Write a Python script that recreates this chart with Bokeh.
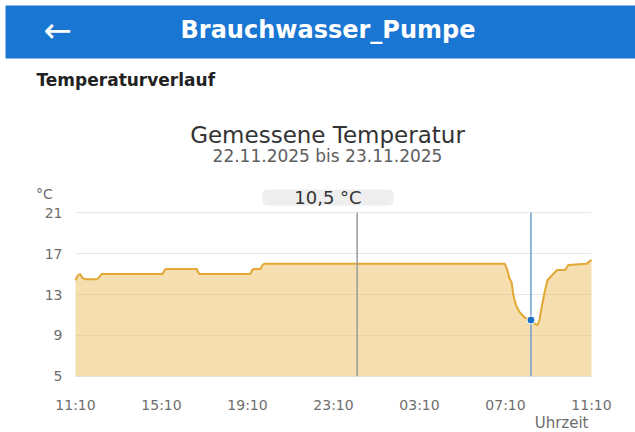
import pandas as pd
from bokeh.plotting import figure
from bokeh.models import (Range1d, FixedTicker, DatetimeTickFormatter,
                          BoxAnnotation, Label, ColumnDataSource, Grid)
from bokeh.embed import file_html
from bokeh.resources import INLINE

# ---------------- data ----------------
times = [
    "2025-11-22 11:10", "2025-11-22 11:17", "2025-11-22 11:23", "2025-11-22 11:30",
    "2025-11-22 11:38", "2025-11-22 12:11", "2025-11-22 12:18", "2025-11-22 12:23",
    "2025-11-22 15:13", "2025-11-22 15:19", "2025-11-22 15:24", "2025-11-22 16:48",
    "2025-11-22 16:52", "2025-11-22 16:56", "2025-11-22 19:18", "2025-11-22 19:23",
    "2025-11-22 19:27", "2025-11-22 19:46", "2025-11-22 19:52", "2025-11-22 19:57",
    "2025-11-23 07:08", "2025-11-23 07:12", "2025-11-23 07:15", "2025-11-23 07:21",
    "2025-11-23 07:27", "2025-11-23 07:32", "2025-11-23 07:40", "2025-11-23 07:49",
    "2025-11-23 08:03", "2025-11-23 08:21", "2025-11-23 08:29", "2025-11-23 08:39",
    "2025-11-23 08:45", "2025-11-23 08:50", "2025-11-23 08:59", "2025-11-23 09:07",
    "2025-11-23 09:20", "2025-11-23 09:34", "2025-11-23 09:56", "2025-11-23 10:06",
    "2025-11-23 10:56", "2025-11-23 11:10",
]
temps = [
    14.4, 14.9, 15.0, 14.6,
    14.5, 14.5, 14.8, 15.0,
    15.0, 15.4, 15.5, 15.5,
    15.2, 15.0, 15.0, 15.4,
    15.5, 15.5, 15.9, 16.0,
    16.0, 15.7, 15.4, 14.6,
    14.2, 12.9, 11.9, 11.3,
    10.75, 10.5, 10.2, 10.0,
    10.5, 11.6, 13.2, 14.4,
    14.9, 15.4, 15.4, 15.9,
    16.0, 16.4,
]
x_ticks = ["2025-11-22 11:10", "2025-11-22 15:10", "2025-11-22 19:10",
           "2025-11-22 23:10", "2025-11-23 03:10", "2025-11-23 07:10",
           "2025-11-23 11:10"]
y_ticks = [5, 9, 13, 17, 21]
marker_time = "2025-11-23 00:16"
cursor_time = "2025-11-23 08:21"
cursor_temp = 10.5

header_text = "Brauchwasser_Pumpe"
section_text = "Temperaturverlauf"
title_text = "Gemessene Temperatur"
subtitle_text = "22.11.2025 bis 23.11.2025"
y_unit = "°C"
x_label = "Uhrzeit"

# ---------------- layout (pixels) ----------------
W, H = 635, 432
PLOT_L, PLOT_R = 75.0, 591.0        # x pixel of first / last time tick
PLOT_T, PLOT_B = 212.3, 375.7       # y pixel of top / bottom y tick

EPOCH = pd.Timestamp("1970-01-01")
def ms(s):
    return (pd.Timestamp(s) - EPOCH) / pd.Timedelta(milliseconds=1)

t0, t1 = ms(x_ticks[0]), ms(x_ticks[-1])
per_px_x = (t1 - t0) / (PLOT_R - PLOT_L)
per_px_y = (y_ticks[-1] - y_ticks[0]) / (PLOT_B - PLOT_T)
x_range = Range1d(t0 - PLOT_L * per_px_x, t1 + (W - PLOT_R) * per_px_x)
y_range = Range1d(y_ticks[0] - (H - PLOT_B) * per_px_y, y_ticks[-1] + PLOT_T * per_px_y)

xs = [ms(t) for t in times]
src = ColumnDataSource(dict(x=xs, y=temps))

FONT = "DejaVu Sans"

p = figure(width=W, height=H, output_backend="svg", toolbar_location=None,
           x_axis_type="datetime", x_range=x_range, y_range=y_range,
           min_border=0)
p.title.visible = False
p.outline_line_color = None
p.background_fill_color = "white"
p.border_fill_color = "white"

# axes, drawn at the chart's own corner
p.xaxis.fixed_location = y_ticks[0]
p.yaxis.fixed_location = t0
p.xaxis.ticker = FixedTicker(ticks=[ms(t) for t in x_ticks])
p.xaxis.formatter = DatetimeTickFormatter(hours="%H:%M", minutes="%H:%M",
                                          days="%H:%M", hourmin="%H:%M")
p.yaxis.ticker = FixedTicker(ticks=y_ticks)
for ax in (p.xaxis[0], p.yaxis[0]):
    ax.axis_line_color = None
    ax.major_tick_line_color = None
    ax.minor_tick_line_color = None
    ax.major_label_text_font = FONT
    ax.major_label_text_font_size = "14px"
    ax.major_label_text_color = "#6e6e6e"
p.xaxis.major_label_standoff = 15
p.yaxis.major_label_standoff = 7
p.xgrid.grid_line_color = None

if "cross_bounds" in Grid.properties():
    p.ygrid.cross_bounds = (t0, t1)
    p.ygrid.grid_line_color = "#e6e6e6"
else:
    p.ygrid.grid_line_color = None
    p.segment(x0=[t0] * len(y_ticks), y0=y_ticks, x1=[t1] * len(y_ticks), y1=y_ticks,
              line_color="#e6e6e6", line_width=1, level="underlay")

# series
p.varea(x="x", y1=y_ticks[0], y2="y", source=src, fill_color="#ebbd61", fill_alpha=0.5)
p.line(x="x", y="y", source=src, line_color="#e3a833", line_width=2)

p.segment(x0=[ms(marker_time)], y0=[y_ticks[0]], x1=[ms(marker_time)], y1=[y_ticks[-1]],
          line_color="#9a9a9a", line_width=1.5)
p.segment(x0=[ms(cursor_time)], y0=[y_ticks[0]], x1=[ms(cursor_time)], y1=[y_ticks[-1]],
          line_color="#6f9fc6", line_width=1.5)
p.scatter(x=[ms(cursor_time)], y=[cursor_temp], size=8, fill_color="#1a6fc9",
          line_color="white", line_width=1)

# header bar and tooltip box (screen units: from bottom-left of the canvas)
def sy(page_y):
    return H - page_y

p.add_layout(BoxAnnotation(left=5, right=W + 5, top=sy(5), bottom=sy(58),
                           left_units="screen", right_units="screen",
                           top_units="screen", bottom_units="screen",
                           fill_color="#1976d2", fill_alpha=1.0, line_color=None))
p.add_layout(BoxAnnotation(left=262, right=393, top=sy(189), bottom=sy(205),
                           left_units="screen", right_units="screen",
                           top_units="screen", bottom_units="screen",
                           fill_color="#eeeeee", fill_alpha=1.0, line_color=None,
                           border_radius=5))

def lab(x, page_y, text, size, color, align="center", bold=False):
    p.add_layout(Label(x=x, y=sy(page_y), x_units="screen", y_units="screen", text=text,
                       text_font=FONT, text_font_size=size, text_color=color,
                       text_align=align, text_baseline="middle",
                       text_font_style="bold" if bold else "normal"))

lab(57, 29, "←", "34px", "white")
lab(327.5, 29, header_text, "24px", "white", bold=True)
lab(36, 79, section_text, "17px", "#222222", align="left", bold=True)
lab(327, 134, title_text, "23px", "#333333")
lab(327, 155, subtitle_text, "17px", "#5e5e5e")
lab(327.5, 197, f"{cursor_temp:.1f}".replace(".", ",") + " " + y_unit, "18px", "#333333")
lab(44, 193, y_unit, "14px", "#6e6e6e")
lab(588, 422, x_label, "15px", "#6e6e6e", align="right")

open("out.html", "w").write(file_html(p, INLINE))
